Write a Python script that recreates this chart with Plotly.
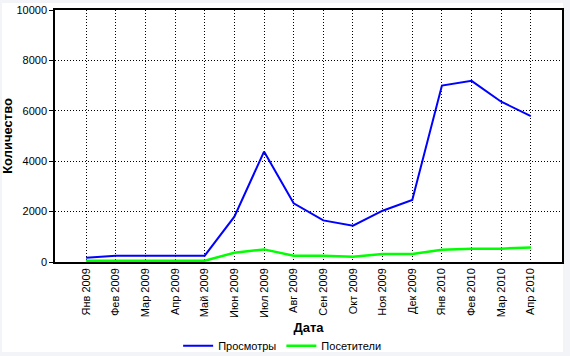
import plotly.graph_objects as go

months = ["Янв 2009", "Фев 2009", "Мар 2009", "Апр 2009", "Май 2009", "Июн 2009",
          "Июл 2009", "Авг 2009", "Сен 2009", "Окт 2009", "Ноя 2009", "Дек 2009",
          "Янв 2010", "Фев 2010", "Мар 2010", "Апр 2010"]
views = [170, 250, 250, 250, 250, 1800, 4380, 2330, 1650, 1440, 2035, 2460, 7000, 7190, 6360, 5790]
visitors = [50, 50, 50, 50, 50, 370, 500, 250, 250, 210, 320, 320, 490, 530, 530, 580]

font = "Liberation Sans, Arial, sans-serif"

fig = go.Figure()
fig.add_trace(go.Scatter(x=months, y=views, mode="lines", name="Просмотры",
                         line=dict(color="#0000ff", width=2)))
fig.add_trace(go.Scatter(x=months, y=visitors, mode="lines", name="Посетители",
                         line=dict(color="#00ff00", width=2.5)))

fig.update_layout(
    width=570, height=356,
    margin=dict(l=55, r=8, t=10, b=94, autoexpand=False),
    paper_bgcolor="#f3f4f8", plot_bgcolor="white",
    font=dict(family=font, size=11, color="black"),
    showlegend=True,
    legend=dict(orientation="h", x=0.448, xanchor="center", y=-0.275, yanchor="top",
                font=dict(size=11), bgcolor="rgba(0,0,0,0)", itemwidth=30,
                tracegroupgap=0),
    shapes=[dict(type="rect", xref="paper", yref="paper",
                 x0=-53/507, x1=(563-55)/507, y0=-(352-262)/252, y1=1+7/252,
                 fillcolor="white", line=dict(width=0), layer="below")],
    xaxis=dict(type="category", range=[-1.05, 16.05], tickangle=-90, automargin=False,
               showgrid=True, gridcolor="black", griddash="1px,2px", gridwidth=1,
               showline=True, linecolor="black", linewidth=1.5, mirror=True,
               ticks="", tickfont=dict(size=11),
               title=dict(text="<b>Дата</b>", font=dict(size=13), standoff=6)),
    yaxis=dict(range=[0, 10000], dtick=2000, tickformat="d", automargin=False,
               showgrid=True, gridcolor="black",
               griddash="1px,2px", gridwidth=1, zeroline=False,
               showline=True, linecolor="black", linewidth=1.5, mirror=True,
               ticks="outside", ticklen=4, tickcolor="black", tickfont=dict(size=11),
               title=dict(text="<b>Количество</b>", font=dict(size=13), standoff=8)),
)

fig.write_html("out.html", config={"displayModeBar": False},
               post_script="document.body.style.margin='0';document.body.style.overflow='hidden';")
